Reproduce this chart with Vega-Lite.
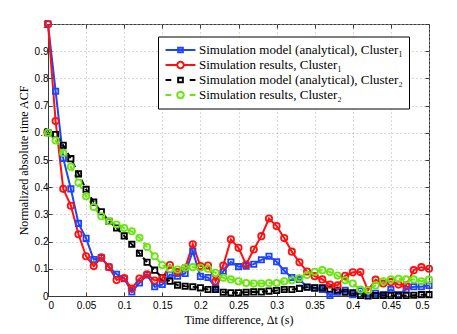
{
  "$schema": "https://vega.github.io/schema/vega-lite/v6.json",
  "autosize": "none",
  "width": 381,
  "height": 272,
  "padding": {"left": 48, "top": 24, "right": 28, "bottom": 38},
  "background": "white",
  "data": {"values": [
    {"t":0,"m1":1,"r1":1,"m2":0.6,"r2":0.6},
    {"t":0.01,"m1":0.753,"r1":0.643,"m2":0.594,"r2":0.572},
    {"t":0.02,"m1":0.506,"r1":0.394,"m2":0.554,"r2":0.526},
    {"t":0.03,"m1":0.394,"r1":0.332,"m2":0.505,"r2":0.475},
    {"t":0.04,"m1":0.267,"r1":0.227,"m2":0.449,"r2":0.416},
    {"t":0.05,"m1":0.212,"r1":0.146,"m2":0.392,"r2":0.367},
    {"t":0.06,"m1":0.134,"r1":0.11,"m2":0.345,"r2":0.327},
    {"t":0.07,"m1":0.14,"r1":0.142,"m2":0.31,"r2":0.293},
    {"t":0.08,"m1":0.106,"r1":0.106,"m2":0.275,"r2":0.275},
    {"t":0.09,"m1":0.08,"r1":0.059,"m2":0.25,"r2":0.263},
    {"t":0.1,"m1":0.064,"r1":0.066,"m2":0.221,"r2":0.25},
    {"t":0.11,"m1":0.015,"r1":0.027,"m2":0.19,"r2":0.238},
    {"t":0.12,"m1":0.048,"r1":0.064,"m2":0.157,"r2":0.214},
    {"t":0.13,"m1":0.077,"r1":0.08,"m2":0.124,"r2":0.18},
    {"t":0.14,"m1":0.034,"r1":0.057,"m2":0.095,"r2":0.146},
    {"t":0.15,"m1":0.042,"r1":0.064,"m2":0.067,"r2":0.114},
    {"t":0.16,"m1":0.079,"r1":0.114,"m2":0.054,"r2":0.1},
    {"t":0.17,"m1":0.073,"r1":0.088,"m2":0.04,"r2":0.097},
    {"t":0.18,"m1":0.083,"r1":0.104,"m2":0.036,"r2":0.104},
    {"t":0.19,"m1":0.165,"r1":0.19,"m2":0.034,"r2":0.106},
    {"t":0.2,"m1":0.072,"r1":0.11,"m2":0.03,"r2":0.104},
    {"t":0.21,"m1":0.068,"r1":0.112,"m2":0.024,"r2":0.1},
    {"t":0.22,"m1":0.03,"r1":0.054,"m2":0.024,"r2":0.085},
    {"t":0.23,"m1":0.091,"r1":0.112,"m2":0.014,"r2":0.067},
    {"t":0.24,"m1":0.125,"r1":0.208,"m2":0.012,"r2":0.061},
    {"t":0.25,"m1":0.108,"r1":0.177,"m2":0.012,"r2":0.054},
    {"t":0.26,"m1":0.11,"r1":0.116,"m2":0.014,"r2":0.048},
    {"t":0.27,"m1":0.117,"r1":0.171,"m2":0.015,"r2":0.046},
    {"t":0.28,"m1":0.133,"r1":0.22,"m2":0.015,"r2":0.046},
    {"t":0.29,"m1":0.146,"r1":0.285,"m2":0.018,"r2":0.048},
    {"t":0.3,"m1":0.126,"r1":0.257,"m2":0.02,"r2":0.048},
    {"t":0.31,"m1":0.093,"r1":0.213,"m2":0.024,"r2":0.054},
    {"t":0.32,"m1":0.068,"r1":0.163,"m2":0.024,"r2":0.058},
    {"t":0.33,"m1":0.061,"r1":0.124,"m2":0.028,"r2":0.065},
    {"t":0.34,"m1":0.033,"r1":0.09,"m2":0.032,"r2":0.077},
    {"t":0.35,"m1":0.029,"r1":0.073,"m2":0.03,"r2":0.089},
    {"t":0.36,"m1":0.024,"r1":0.061,"m2":0.03,"r2":0.095},
    {"t":0.37,"m1":0.002,"r1":0.042,"m2":0.026,"r2":0.088},
    {"t":0.38,"m1":0.014,"r1":0.039,"m2":0.021,"r2":0.075},
    {"t":0.39,"m1":0.021,"r1":0.074,"m2":0.014,"r2":0.058},
    {"t":0.4,"m1":0.005,"r1":0.087,"m2":0.012,"r2":0.046},
    {"t":0.41,"m1":0.018,"r1":0.088,"m2":0.002,"r2":0.024},
    {"t":0.42,"m1":0,"r1":0.021,"m2":0.001,"r2":0.021},
    {"t":0.43,"m1":0.01,"r1":0.06,"m2":0.002,"r2":0.039},
    {"t":0.44,"m1":0.005,"r1":0.046,"m2":0.002,"r2":0.054},
    {"t":0.45,"m1":0.024,"r1":0.051,"m2":0.002,"r2":0.061},
    {"t":0.46,"m1":0.005,"r1":0.042,"m2":0.002,"r2":0.063},
    {"t":0.47,"m1":0.024,"r1":0.039,"m2":0.002,"r2":0.061},
    {"t":0.48,"m1":0.034,"r1":0.095,"m2":0.003,"r2":0.061},
    {"t":0.49,"m1":0.034,"r1":0.106,"m2":0.005,"r2":0.054},
    {"t":0.5,"m1":0.039,"r1":0.1,"m2":0.005,"r2":0.06}
  ]},
  "transform": [{"fold": ["m1","r1","m2","r2"], "as": ["series","acf"]}],
  "layer": [
    {
      "transform": [{"filter": {"field": "series", "oneOf": ["m1","r1"]}}],
      "mark": {"type": "line", "strokeWidth": 2},
      "encoding": {
        "x": {"field": "t", "type": "quantitative", "scale": {"domain": [0, 0.5], "nice": false},
              "axis": {"orient": "bottom", "values": [0,0.05,0.1,0.15,0.2,0.25,0.3,0.35,0.4,0.45,0.5], "format": "~g", "grid": true, "tickSize": -4, "labelPadding": 8, "title": "Time difference, \u0394t (s)", "titlePadding": 4}},
        "y": {"field": "acf", "type": "quantitative", "scale": {"domain": [0, 1], "nice": false},
              "axis": {"orient": "left", "values": [0,0.1,0.2,0.3,0.4,0.5,0.6,0.7,0.8,0.9,1], "format": "~g", "grid": true, "tickSize": -4, "labelPadding": 4, "title": "Normalized absolute time ACF", "titlePadding": 4}},
        "color": {"field": "series", "type": "nominal",
          "scale": {"domain": ["m1","r1","m2","r2"], "range": ["#1f45fa","#ff1010","#000000","#66e80a"]},
          "legend": {
            "orient": "none", "legendX": 110, "legendY": 12.5, "title": null, "direction": "vertical",
            "fillColor": "white", "strokeColor": "#000000", "padding": 6,
            "labelFont": "Liberation Serif", "labelFontSize": 13, "labelColor": "#000000", "labelLimit": 400,
            "symbolSize": 169, "symbolStrokeWidth": 2, "symbolOffset": 9, "labelOffset": 11, "rowPadding": 0,
            "labelExpr": "datum.value == 'm1' ? 'Simulation model (analytical), Cluster\u2081\u00a0\u00a0\u00a0\u00a0\u00a0' : datum.value == 'r1' ? 'Simulation results, Cluster\u2081' : datum.value == 'm2' ? 'Simulation model (analytical), Cluster\u2082\u00a0\u00a0\u00a0\u00a0\u00a0' : 'Simulation results, Cluster\u2082'",
            "encode": {"symbols": {"update": {
              "fill": {"value": "transparent"},
              "strokeDash": {"value": [1, 0]},
              "shape": {"signal": "datum.value == 'm1' ? 'M-2.3,0H2.3M-0.36,-0.36H0.36V0.36H-0.36Z' : datum.value == 'r1' ? 'M-2.3,0H-0.5M0.5,0H2.3M0.5,0A0.5,0.5 0 1,1 -0.5,0A0.5,0.5 0 1,1 0.5,0Z' : datum.value == 'm2' ? 'M-2.3,0H-1.42M1.42,0H2.3M-0.36,-0.36H0.36V0.36H-0.36Z' : 'M-2.3,0H-1.42M1.42,0H2.3M0.5,0A0.5,0.5 0 1,1 -0.5,0A0.5,0.5 0 1,1 0.5,0Z'"}
            }}}
          }}
      }
    },
    {
      "transform": [{"filter": {"field": "series", "oneOf": ["m2","r2"]}}],
      "mark": {"type": "line", "strokeWidth": 2, "strokeDash": [6, 4]},
      "encoding": {
        "x": {"field": "t", "type": "quantitative", "axis": null},
        "y": {"field": "acf", "type": "quantitative", "axis": null},
        "color": {"field": "series", "type": "nominal", "legend": null}
      }
    },
    {
      "transform": [{"filter": {"field": "series", "oneOf": ["m1","m2"]}}],
      "mark": {"type": "point", "shape": "square", "size": 28, "filled": false, "strokeWidth": 1.8, "opacity": 1},
      "encoding": {
        "x": {"field": "t", "type": "quantitative", "axis": null},
        "y": {"field": "acf", "type": "quantitative", "axis": null},
        "color": {"field": "series", "type": "nominal", "legend": null}
      }
    },
    {
      "transform": [{"filter": {"field": "series", "oneOf": ["r1","r2"]}}],
      "mark": {"type": "point", "shape": "circle", "size": 40, "filled": false, "strokeWidth": 1.8, "opacity": 1},
      "encoding": {
        "x": {"field": "t", "type": "quantitative", "axis": null},
        "y": {"field": "acf", "type": "quantitative", "axis": null},
        "color": {"field": "series", "type": "nominal", "legend": null}
      }
    },
    {
      "mark": {"type": "point", "opacity": 0},
      "encoding": {
        "x": {"field": "t", "type": "quantitative",
              "axis": {"orient": "top", "values": [0,0.05,0.1,0.15,0.2,0.25,0.3,0.35,0.4,0.45,0.5], "labels": false, "grid": false, "domain": false, "tickSize": -4, "title": null}},
        "y": {"field": "acf", "type": "quantitative",
              "axis": {"orient": "right", "values": [0,0.1,0.2,0.3,0.4,0.5,0.6,0.7,0.8,0.9,1], "labels": false, "grid": false, "domain": false, "tickSize": -4, "title": null}}
      }
    }
  ],
  "resolve": {"axis": {"x": "independent", "y": "independent"}},
  "config": {
    "view": {"stroke": "#3a3a3a", "strokeWidth": 1},
    "axis": {
      "labelFont": "Liberation Sans", "labelFontSize": 10, "labelColor": "#000000",
      "titleFont": "Liberation Serif", "titleFontSize": 12, "titleFontWeight": "normal", "titleColor": "#000000",
      "domainColor": "#3a3a3a", "tickColor": "#3a3a3a",
      "gridColor": "#b0b0b0", "gridDash": [1, 3], "gridOpacity": 1
    }
  }
}
